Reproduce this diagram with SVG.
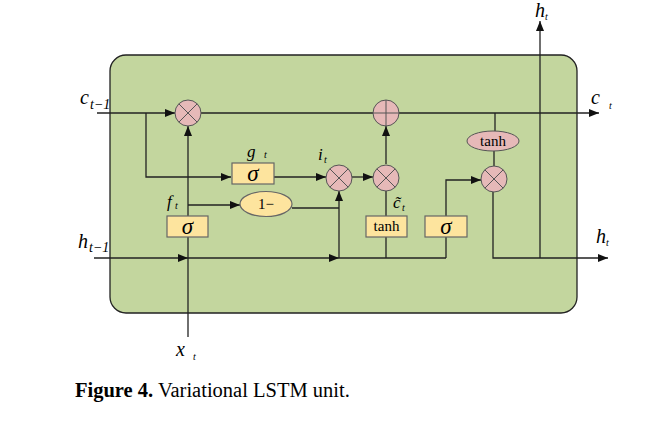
<svg xmlns="http://www.w3.org/2000/svg" width="670" height="427" viewBox="0 0 670 427">
<style>
.ln{stroke:#222;stroke-width:1.3;fill:none}
.cir{fill:#e6b9b8;stroke:#555;stroke-width:1}
.cx{stroke:#555;stroke-width:1}
.box{fill:#fde49e;stroke:#666;stroke-width:1.2}
.sig{font-family:"Liberation Serif",serif;font-style:italic;font-size:23px;text-anchor:middle}
.t{font-family:"Liberation Serif",serif;font-size:15px;text-anchor:middle}
.v{font-family:"Liberation Serif",serif;font-style:italic;font-size:20px}
.s{font-family:"Liberation Serif",serif;font-style:italic;font-size:10px}
</style>
<defs>
<marker id="ah" viewBox="0 0 10 8" refX="10" refY="4" markerWidth="10" markerHeight="8" markerUnits="userSpaceOnUse" orient="auto">
<path d="M0,0 L10,4 L0,8 z" fill="#111"/>
</marker>
</defs>
<rect x="110" y="55" width="467" height="258" rx="16" ry="16" fill="#c3d69e" stroke="#222" stroke-width="1.3"/>
<g id="connectors">
<line class="ln" x1="97" y1="113" x2="175" y2="113" marker-end="url(#ah)"/>
<line class="ln" x1="201" y1="113" x2="373" y2="113"/>
<line class="ln" x1="399" y1="113" x2="599" y2="113" marker-end="url(#ah)"/>
<polyline class="ln" points="146,113 146,177 231,177" marker-end="url(#ah)"/>
<line class="ln" x1="188" y1="337" x2="188" y2="126" marker-end="url(#ah)"/>
<line class="ln" x1="188" y1="205" x2="240" y2="205" marker-end="url(#ah)"/>
<line class="ln" x1="274" y1="177" x2="326" y2="177" marker-end="url(#ah)"/>
<polyline class="ln" points="292,208 339,208"/>
<line class="ln" x1="339" y1="258" x2="339" y2="191" marker-end="url(#ah)"/>
<line class="ln" x1="94" y1="258" x2="188" y2="258" marker-end="url(#ah)"/>
<line class="ln" x1="188" y1="258" x2="339" y2="258" marker-end="url(#ah)"/>
<line class="ln" x1="339" y1="258" x2="446" y2="258"/>
<line class="ln" x1="352" y1="177" x2="373" y2="177" marker-end="url(#ah)"/>
<line class="ln" x1="386" y1="164" x2="386" y2="126" marker-end="url(#ah)"/>
<line class="ln" x1="386" y1="191" x2="386" y2="216"/>
<line class="ln" x1="386" y1="237" x2="386" y2="258"/>
<line class="ln" x1="446" y1="258" x2="446" y2="237"/>
<polyline class="ln" points="446,216 446,180 481,180" marker-end="url(#ah)"/>
<line class="ln" x1="495" y1="113" x2="495" y2="131"/>
<line class="ln" x1="494" y1="151" x2="494" y2="166"/>
<polyline class="ln" points="493,192 493,258 608,258" marker-end="url(#ah)"/>
<line class="ln" x1="540" y1="258" x2="540" y2="21" marker-end="url(#ah)"/>
</g>
<g id="mul1"><circle class="cir" cx="188" cy="113" r="13"/><path class="cx" d="M178.8,103.8 L197.2,122.2 M197.2,103.8 L178.8,122.2"/></g>
<g id="add"><circle class="cir" cx="386" cy="113" r="13"/><path class="cx" d="M373,113 H399 M386,100 V126"/></g>
<g id="mul2"><circle class="cir" cx="339" cy="178" r="13"/><path class="cx" d="M329.8,168.8 L348.2,187.2 M348.2,168.8 L329.8,187.2"/></g>
<g id="mul3"><circle class="cir" cx="386" cy="178" r="13"/><path class="cx" d="M376.8,168.8 L395.2,187.2 M395.2,168.8 L376.8,187.2"/></g>
<g id="mul4"><circle class="cir" cx="494" cy="179" r="13"/><path class="cx" d="M484.8,169.8 L503.2,188.2 M503.2,169.8 L484.8,188.2"/></g>
<g id="tanh-out"><ellipse class="cir" cx="493" cy="141" rx="26" ry="10"/><text class="t" x="493" y="146">tanh</text></g>
<g id="sigma-g"><rect class="box" x="232" y="163" width="42" height="21"/><text class="sig" x="253" y="181">σ</text></g>
<g id="one-minus"><ellipse class="box" cx="266" cy="204" rx="26" ry="12.5"/><text class="t" x="266" y="209">1−</text></g>
<g id="sigma-f"><rect class="box" x="167" y="216" width="41" height="21"/><text class="sig" x="187.5" y="234">σ</text></g>
<g id="tanh-c"><rect class="box" x="366" y="216" width="41" height="21"/><text class="t" x="386.5" y="231">tanh</text></g>
<g id="sigma-o"><rect class="box" x="425" y="216" width="42" height="21"/><text class="sig" x="446" y="234">σ</text></g>
<g id="labels">
<text class="v" x="80" y="104">c</text><text class="s" x="90" y="109" style="font-size:14px">t−1</text>
<text class="v" x="78" y="248">h</text><text class="s" x="89" y="252" style="font-size:14px">t−1</text>
<text class="v" x="591" y="104">c</text><text class="s" x="609" y="109">t</text>
<text class="v" x="596" y="243">h</text><text class="s" x="606" y="246">t</text>
<text class="v" x="535" y="17">h</text><text class="s" x="545" y="20">t</text>
<text class="v" x="176" y="356">x</text><text class="s" x="193" y="360">t</text>
<text class="v" x="247" y="157" style="font-size:17px">g</text><text class="s" x="264" y="158">t</text>
<text class="v" x="318" y="160" style="font-size:17px">i</text><text class="s" x="324" y="163">t</text>
<text class="v" x="167" y="207" style="font-size:17px">f</text><text class="s" x="175" y="209">t</text>
<text class="v" x="393" y="208" style="font-size:17px">c&#x303;</text><text class="s" x="402" y="211">t</text>
</g>
<text x="75" y="397" font-family="Liberation Serif, serif" font-size="20.5"><tspan font-weight="bold">Figure 4.</tspan> Variational LSTM unit.</text>
</svg>
